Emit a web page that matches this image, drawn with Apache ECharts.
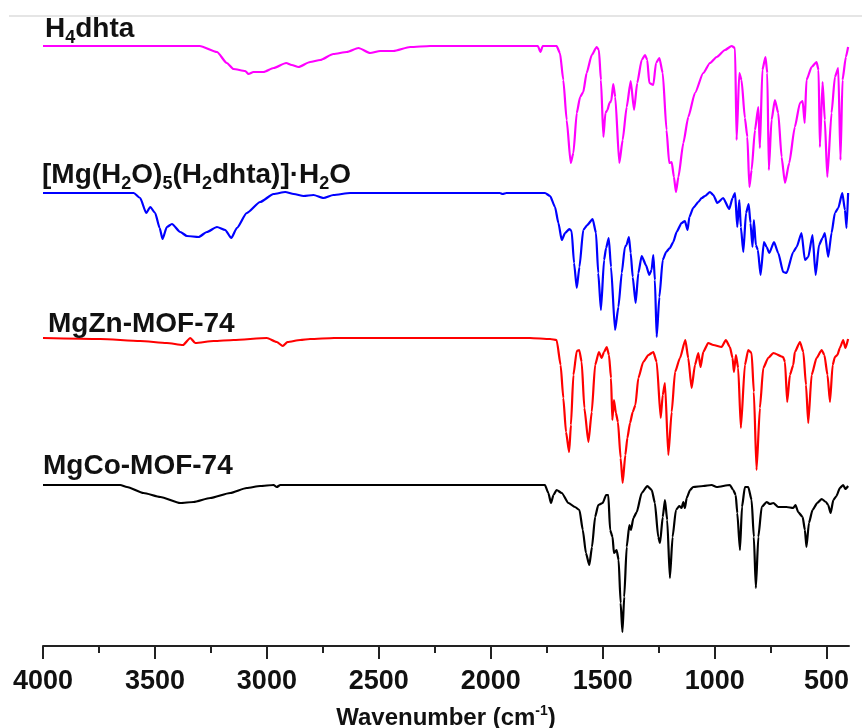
<!DOCTYPE html>
<html>
<head>
<meta charset="utf-8">
<script src="https://cdn.jsdelivr.net/npm/echarts@6/dist/echarts.min.js"></script>
<style>
html, body { margin: 0; padding: 0; background: #fff; }
#main { width: 862px; height: 728px; }
</style>
</head>
<body>
<div id="main"></div>
<script>
// FTIR spectra, stacked, transmittance in arbitrary units (offset per sample)
var majorTicks = [4000, 3500, 3000, 2500, 2000, 1500, 1000, 500];
var minorTicks = [3750, 3250, 2750, 2250, 1750, 1250, 750];

var h4dhta = [[4000,600],[3300,600],[3223,594],[3179,583],[3149,577],[3097,575],[3082,572],[3060,574],[3015,574],[2970,578],[2914,583],[2889,581],[2859,579],[2807,584],[2762,586],[2703,592],[2643,594],[2591,598],[2539,593],[2494,595],[2435,595],[2360,599],[2271,600],[1825,600],[1790,600],[1778,594],[1768,600],[1706,600],[1691,593],[1676,566],[1661,526],[1643,483],[1631,493],[1616,533],[1601,549],[1587,554],[1572,573],[1549,591],[1527,599],[1517,596],[1508,566],[1497,509],[1488,533],[1479,536],[1470,543],[1462,545],[1453,562],[1444,549],[1426,483],[1411,506],[1393,539],[1375,565],[1360,536],[1346,563],[1326,586],[1311,591],[1301,586],[1292,563],[1274,561],[1262,583],[1247,588],[1232,573],[1215,516],[1203,483],[1192,484],[1182,469],[1173,454],[1162,469],[1140,503],[1118,529],[1088,553],[1051,573],[1021,583],[991,589],[954,596],[924,600],[909,598],[902,506],[890,573],[880,566],[865,528],[854,509],[845,459],[835,476],[820,516],[805,539],[798,498],[787,576],[773,589],[765,573],[758,476],[746,526],[731,546],[716,533],[701,489],[686,463],[667,483],[642,519],[619,543],[607,545],[598,523],[590,566],[567,579],[545,584],[536,576],[530,499],[518,564],[508,526],[497,469],[478,533],[463,569],[448,578],[438,486],[429,566],[414,589],[404,599]];

var mgComplex = [[4000,453],[3595,453],[3566,448],[3539,433],[3521,439],[3499,433],[3479,418],[3466,407],[3447,419],[3424,422],[3387,414],[3357,410],[3305,409],[3268,414],[3223,419],[3186,416],[3159,408],[3134,418],[3090,433],[3030,444],[2970,452],[2918,454],[2880,452],[2836,450],[2792,451],[2747,448],[2703,451],[2628,453],[2271,453],[1960,453],[1947,452],[1930,453],[1758,453],[1735,450],[1713,439],[1698,423],[1683,406],[1668,413],[1649,417],[1639,415],[1628,383],[1616,358],[1604,379],[1587,416],[1569,421],[1545,427],[1530,413],[1520,373],[1508,336],[1494,386],[1485,398],[1473,408],[1463,379],[1445,316],[1430,339],[1415,373],[1401,399],[1394,401],[1383,409],[1375,393],[1366,369],[1353,343],[1341,373],[1326,390],[1307,381],[1292,371],[1282,376],[1274,391],[1267,366],[1259,309],[1247,349],[1232,386],[1217,394],[1200,398],[1185,404],[1170,414],[1148,423],[1133,425],[1121,416],[1113,429],[1096,438],[1073,444],[1058,448],[1043,450],[1021,454],[1006,451],[988,443],[962,448],[935,437],[920,448],[909,453],[899,419],[890,446],[883,419],[872,394],[860,433],[848,442],[840,423],[831,399],[825,426],[816,401],[807,396],[795,371],[780,404],[768,399],[756,393],[735,404],[716,393],[694,374],[679,373],[649,394],[634,399],[612,413],[597,386],[582,389],[563,411],[549,371],[534,401],[518,408],[508,413],[493,389],[478,413],[463,433],[448,438],[430,453],[418,436],[411,418],[404,453]];

var mgZn = [[4000,308],[3744,307],[3566,305],[3447,303],[3375,301],[3342,308],[3320,303],[3238,305],[3149,306],[3000,308],[2956,304],[2929,300],[2908,304],[2851,306],[2807,307],[2700,308],[2271,308],[1825,308],[1735,307],[1706,306],[1688,281],[1676,248],[1664,214],[1650,194],[1642,221],[1631,271],[1616,295],[1605,296],[1594,284],[1582,238],[1564,204],[1549,234],[1534,281],[1517,294],[1505,288],[1494,294],[1482,299],[1472,291],[1463,268],[1457,226],[1450,246],[1441,233],[1432,224],[1420,188],[1411,163],[1399,191],[1390,208],[1378,223],[1366,234],[1354,241],[1341,268],[1319,284],[1296,291],[1274,294],[1259,284],[1241,228],[1232,251],[1222,263],[1207,191],[1192,234],[1177,274],[1155,288],[1131,306],[1118,288],[1103,258],[1088,281],[1073,293],[1063,279],[1051,294],[1029,303],[1006,301],[969,299],[950,306],[932,299],[920,288],[914,274],[905,291],[895,278],[883,218],[865,281],[850,296],[835,293],[825,254],[813,176],[798,238],[783,278],[761,288],[738,293],[694,289],[686,284],[676,244],[664,271],[649,281],[642,294],[619,304],[604,294],[592,261],[582,223],[567,271],[545,288],[522,296],[510,291],[496,271],[485,244],[473,281],[463,289],[452,291],[441,298],[426,306],[416,298],[404,307]];

var mgCo = [[4000,161],[3655,161],[3625,159],[3551,153],[3476,149],[3387,143],[3328,144],[3253,148],[3164,153],[3090,158],[3030,160],[2970,161],[2956,159],[2940,161],[2271,161],[1825,161],[1758,161],[1743,153],[1731,143],[1720,151],[1706,156],[1683,153],[1653,143],[1624,139],[1604,136],[1589,116],[1575,93],[1560,81],[1548,99],[1534,129],[1520,141],[1500,143],[1485,151],[1475,151],[1467,116],[1456,109],[1450,93],[1438,96],[1429,86],[1420,43],[1412,14],[1404,49],[1393,99],[1381,121],[1374,116],[1363,128],[1348,134],[1326,153],[1301,160],[1281,156],[1267,143],[1252,109],[1244,103],[1232,129],[1222,146],[1212,126],[1200,68],[1188,109],[1173,136],[1158,140],[1148,138],[1140,144],[1133,138],[1125,148],[1110,156],[1096,159],[1051,160],[1014,161],[991,159],[932,161],[917,156],[906,151],[899,133],[887,96],[878,139],[865,159],[850,159],[835,146],[825,109],[816,58],[805,109],[790,139],[768,144],[753,142],[738,143],[716,139],[679,139],[649,138],[639,141],[627,134],[607,129],[597,116],[590,99],[579,123],[563,136],[542,143],[522,147],[503,144],[493,141],[482,133],[470,146],[456,150],[441,158],[426,161],[416,157],[404,160]];

var myChart = echarts.init(document.getElementById('main'));
var font = 'Liberation Sans, Arial, sans-serif';
var labelRich = {
    a: { fontSize: 28, fontWeight: 'bold', fontFamily: font, color: '#111', lineHeight: 36 },
    s: { fontSize: 18, fontWeight: 'bold', fontFamily: font, color: '#111', lineHeight: 18, verticalAlign: 'bottom' }
};
function sampleTitle(text, left, top) {
    return { text: text, left: left, top: top, padding: 0, textStyle: { rich: labelRich } };
}
function spectrum(name, data, color) {
    return {
        name: name, type: 'line', data: data, showSymbol: false,
        smooth: 0.2, smoothMonotone: 'x',
        lineStyle: { color: color, width: 2.2 }, itemStyle: { color: color }
    };
}

option = {
    animation: false,
    backgroundColor: '#fff',
    title: [
        sampleTitle('{a|H}{s|4}{a|dhta}', 45, 11),
        sampleTitle('{a|[Mg(H}{s|2}{a|O)}{s|5}{a|(H}{s|2}{a|dhta)]·H}{s|2}{a|O}', 42, 157),
        sampleTitle('{a|MgZn-MOF-74}', 48, 306),
        sampleTitle('{a|MgCo-MOF-74}', 43, 448)
    ],
    graphic: [{
        type: 'line',
        shape: { x1: 9, y1: 16, x2: 862, y2: 16 },
        style: { stroke: '#dcdcdc', lineWidth: 1.5 }
    }],
    grid: { left: 43, right: 13, top: 16, bottom: 82, outerBoundsMode: 'none' },
    xAxis: [{
        type: 'value',
        min: 400,
        max: 4000,
        inverse: true,
        position: 'bottom',
        name: '{n|Wavenumber (cm}{p|-1}{n|)}',
        nameLocation: 'middle',
        nameGap: 58,
        nameTextStyle: {
            rich: {
                n: { fontSize: 24, fontWeight: 'bold', fontFamily: font, color: '#111', lineHeight: 28 },
                p: { fontSize: 14, fontWeight: 'bold', fontFamily: font, color: '#111', lineHeight: 14, verticalAlign: 'top' }
            }
        },
        axisLine: { show: true, lineStyle: { color: '#222', width: 2 } },
        axisTick: { show: true, length: 13, customValues: majorTicks, lineStyle: { color: '#222', width: 2 } },
        axisLabel: {
            customValues: majorTicks,
            formatter: function (v) { return String(v); },
            fontSize: 27, fontWeight: 'bold', fontFamily: font, color: '#111', margin: 22
        },
        splitLine: { show: false }
    }, {
        type: 'value',
        min: 400,
        max: 4000,
        inverse: true,
        position: 'bottom',
        axisLine: { show: false },
        axisTick: { show: true, length: 7, customValues: minorTicks, lineStyle: { color: '#222', width: 2 } },
        axisLabel: { show: false },
        splitLine: { show: false }
    }],
    yAxis: { type: 'value', min: 0, max: 630, show: false },
    series: [
        spectrum('H4dhta', h4dhta, '#ff00ff'),
        spectrum('[Mg(H2O)5(H2dhta)]·H2O', mgComplex, '#0000ff'),
        spectrum('MgZn-MOF-74', mgZn, '#ff0000'),
        spectrum('MgCo-MOF-74', mgCo, '#000000')
    ]
};

myChart.setOption(option);
</script>
</body>
</html>
